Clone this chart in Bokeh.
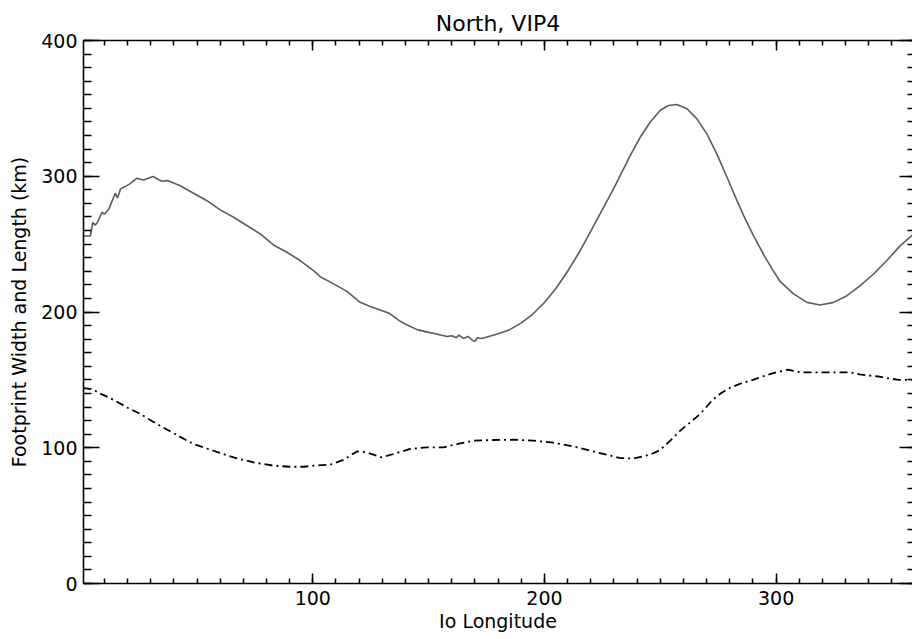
from bokeh.plotting import figure
from bokeh.models import Range1d, LinearAxis, FixedTicker
from bokeh.embed import file_html
from bokeh.resources import INLINE

# ---- data ----
solid_lon = [1, 4, 5, 6, 7, 9, 10, 12, 14.7, 15.7, 17, 19, 21, 24, 27, 31, 34.8, 37.3,
             42.7, 48.5, 54.3, 60, 65.8, 71.5, 77.3, 83, 88.8, 94.5, 100.3, 103.2, 109,
             114.7, 120.4, 124.8, 129, 133, 137, 140, 145, 150, 153, 155, 158, 160, 162,
             163, 165, 167, 169, 170, 171, 173, 180, 185, 190, 195, 200, 205, 210, 215,
             220, 224, 229.8, 237, 241.3, 245.6, 249.9, 253.5, 257.2, 261.5, 265.8,
             270.1, 274.4, 278.8, 283.1, 286, 290, 295, 298, 301.7, 307.5, 313.3, 319,
             324.8, 330.6, 336.3, 342.1, 347.8, 353.6, 358.6, 360]
solid_val = [256, 256, 266, 264, 266, 273.5, 272, 276, 287.5, 284, 290.7, 292.4, 294.4,
             298.5, 297.3, 299.8, 296.3, 296.8, 293, 287.5, 282, 275.2, 269.8, 263.7,
             257.5, 249.4, 244, 237.9, 230.5, 226, 220.7, 215.2, 207.1, 204, 201.5, 199,
             194, 191, 187, 185, 184, 183, 182, 182.5, 181, 183, 180.5, 182, 179, 178.5,
             181, 180.5, 184, 187, 192, 198.5, 207, 217.5, 230, 244, 259.5, 272.3, 290.7,
             315.2, 328.7, 339.8, 348.4, 352.1, 352.8, 349.7, 342.3, 331.2, 316.5, 299.3,
             282, 271, 257, 241, 232.5, 222.5, 213.3, 207.1, 205.2, 207.1, 212, 219.4, 228,
             237.9, 248.9, 256.3, 258.5]

dash_lon = [1, 5, 8, 12, 16, 20, 25.5, 32.7, 40.6, 48.5, 57.1, 65.8, 74.4, 83, 90.2, 96,
            100.3, 107.5, 113.2, 119, 123.3, 129.8, 134.8, 142, 149.2, 156.4, 163.6, 169.4,
            178, 186.6, 195.3, 203.9, 212.5, 222.6, 232.7, 238.4, 245.6, 249.9, 254.3,
            258.6, 262.9, 267.2, 272.3, 276, 280, 285, 290, 295, 300, 305, 311, 317, 323,
            332, 336, 344, 349, 353, 360]
dash_val = [144, 143, 140, 137, 133.4, 129.5, 124.9, 117.5, 110.1, 102.7, 97.8, 92.9, 89.2,
            86.8, 86, 86, 86.8, 87.5, 91, 97.3, 96.6, 92.9, 95.4, 99.1, 100.3, 100.3, 103.2,
            105.2, 105.7, 105.9, 105.2, 103.7, 101, 96.6, 92.4, 92.1, 94.9, 98.3, 105.2,
            112.6, 118.7, 124.9, 134.7, 140, 144, 147.5, 150, 153, 155.5, 157.5, 155.5,
            155.5, 155.5, 155.5, 154, 152.5, 151, 150, 150]

x_major = [100, 200, 300]
x_minor = list(range(10, 360, 10))
y_major = [0, 100, 200, 300, 400]
y_minor = list(range(0, 401, 10))

title_text = "North, VIP4"
x_label = "Io Longitude"
y_label = "Footprint Width and Length (km)"

FONT = "DejaVu Sans"

p = figure(width=912, height=639,
           x_range=Range1d(1, 358.87), y_range=Range1d(0, 400),
           output_backend="svg", toolbar_location=None,
           min_border_left=83, min_border_right=0,
           min_border_top=40, min_border_bottom=56,
           title=title_text, x_axis_label=x_label, y_axis_label=y_label)

p.outline_line_color = None
p.xgrid.visible = False
p.ygrid.visible = False
p.background_fill_color = "white"
p.border_fill_color = "white"

p.title.text_font = FONT
p.title.text_font_size = "22px"
p.title.text_font_style = "normal"
p.title.align = "center"
p.title.text_color = "black"


def style(ax, ticker, tin, tmin, labels=True):
    ax.ticker = ticker
    ax.axis_line_color = "black"
    ax.axis_line_width = 1.6
    ax.major_tick_line_color = "black"
    ax.minor_tick_line_color = "black"
    ax.major_tick_line_width = 1.5
    ax.minor_tick_line_width = 1.5
    ax.major_tick_in = tin
    ax.major_tick_out = 0
    ax.minor_tick_in = tmin
    ax.minor_tick_out = 0
    ax.major_label_text_font = FONT
    ax.axis_label_text_font = FONT
    ax.axis_label_text_font_style = "normal"
    ax.axis_label_text_color = "black"
    if labels:
        ax.major_label_text_color = "black"
        ax.major_label_text_font_size = "19px"
        ax.axis_label_text_font_size = "19px"
    else:
        # tick marks only: labels are not drawn at all
        ax.major_label_text_color = None
        ax.major_label_text_font_size = "1px"
        ax.major_label_standoff = 0
        ax.axis_label = None


xt = FixedTicker(ticks=x_major, minor_ticks=x_minor)
yt = FixedTicker(ticks=y_major, minor_ticks=y_minor)

bx = p.xaxis[0]
style(bx, xt, 10, 5)
bx.major_label_standoff = 7
bx.axis_label_standoff = 2

ly = p.yaxis[0]
style(ly, yt, 16, 8)
ly.major_label_standoff = 6
ly.axis_label_standoff = 8

top = LinearAxis()
style(top, FixedTicker(ticks=x_major, minor_ticks=x_minor), 10, 5, labels=False)
p.add_layout(top, "above")

right = LinearAxis()
style(right, FixedTicker(ticks=y_major, minor_ticks=y_minor), 13, 5, labels=False)
right.axis_line_color = None
p.add_layout(right, "right")

p.line(solid_lon, solid_val, line_color="#5c5c5c", line_width=1.6)
p.line(dash_lon, dash_val, line_color="black", line_width=1.8, line_dash="8 4 2 4")

open("out.html", "w").write(file_html(p, INLINE))
